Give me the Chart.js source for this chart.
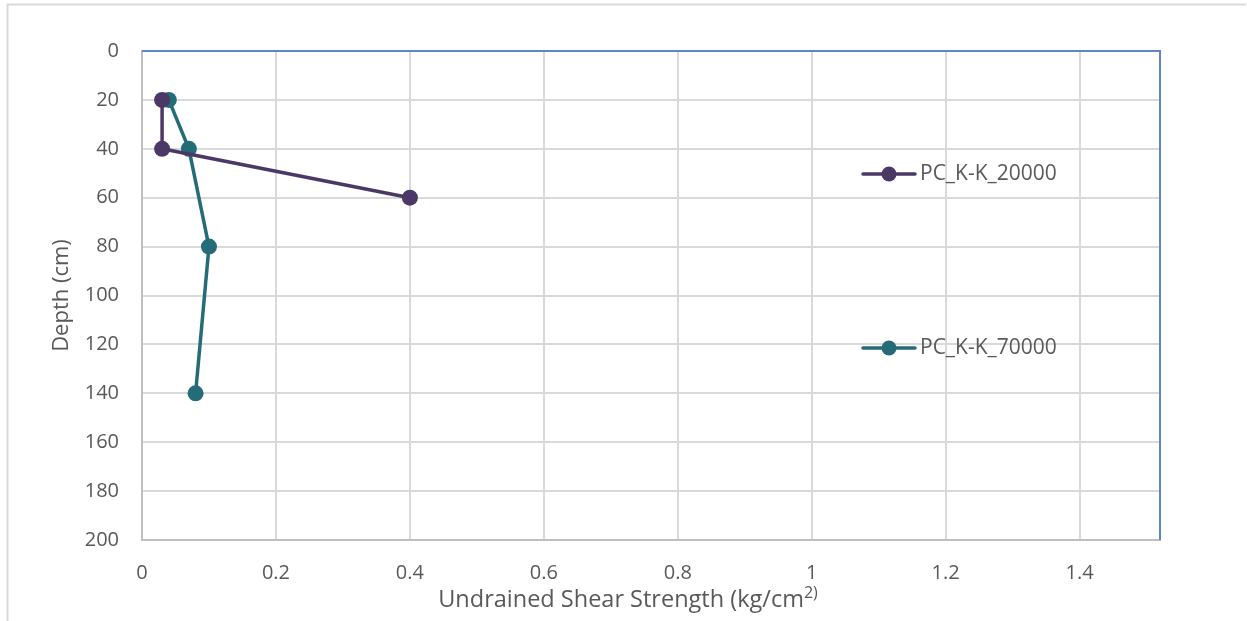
<!DOCTYPE html>
<html>
<head>
<meta charset="utf-8">
<script src="https://cdn.jsdelivr.net/npm/chart.js@4/dist/chart.umd.min.js"></script>
<style>
  html, body { margin: 0; padding: 0; background: #fff; }
  #wrap { position: relative; width: 1247px; height: 621px; }
</style>
</head>
<body>
<div id="wrap"><canvas id="shear"></canvas></div>
<script>
// series: depth (cm) against undrained shear strength (kg/cm2)
const seriesNames = ['PC_K-K_20000', 'PC_K-K_70000'];
const seriesColors = ['#4b3866', '#236c78'];

const depth20000 = [20, 40, 60];
const strength20000 = [0.03, 0.03, 0.40];

const depth70000 = [20, 40, 80, 140];
const strength70000 = [0.04, 0.07, 0.10, 0.08];

const xTicks = [0, 0.2, 0.4, 0.6, 0.8, 1, 1.2, 1.4];
const yTicks = [0, 20, 40, 60, 80, 100, 120, 140, 160, 180, 200];

const FONT = '"Open Sans", sans-serif';
const TEXT = '#595959';

function toPoints(xs, ys) {
  return xs.map((x, i) => ({ x: x, y: ys[i] }));
}

// frame, blue top/right edges, axis titles and the legend
const decorations = {
  id: 'decorations',
  beforeDraw(chart) {
    const ctx = chart.ctx;
    ctx.save();
    ctx.strokeStyle = '#d9d9d9';
    ctx.lineWidth = 2;
    ctx.beginPath();
    ctx.moveTo(7.5, 640);
    ctx.lineTo(7.5, 4.5);
    ctx.lineTo(1246, 4.5);
    ctx.stroke();
    ctx.restore();
  },
  afterDatasetsDraw(chart) {
    const ctx = chart.ctx;
    const a = chart.chartArea;
    ctx.save();

    ctx.strokeStyle = '#5b87c8';
    ctx.lineWidth = 2;
    ctx.beginPath();
    ctx.moveTo(a.left, a.top);
    ctx.lineTo(a.right, a.top);
    ctx.lineTo(a.right, a.bottom);
    ctx.stroke();

    ctx.fillStyle = TEXT;
    ctx.textBaseline = 'middle';

    // y title
    ctx.save();
    ctx.translate(62, (a.top + a.bottom) / 2);
    ctx.rotate(-Math.PI / 2);
    ctx.textAlign = 'center';
    ctx.font = '22px ' + FONT;
    ctx.fillText('Depth (cm)', 0, 0);
    ctx.restore();

    // x title with superscript
    const main = 'Undrained Shear Strength (kg/cm';
    const sup = '2)';
    ctx.font = '23.5px ' + FONT;
    const w1 = ctx.measureText(main).width;
    ctx.font = '16px ' + FONT;
    const w2 = ctx.measureText(sup).width;
    const x0 = 628 - (w1 + w2) / 2;
    ctx.textAlign = 'left';
    ctx.font = '23.5px ' + FONT;
    ctx.fillText(main, x0, 600);
    ctx.font = '16px ' + FONT;
    ctx.fillText(sup, x0 + w1, 593);

    // legend entries
    const legendY = [174, 348];
    seriesNames.forEach((name, i) => {
      const y = legendY[i];
      ctx.strokeStyle = seriesColors[i];
      ctx.lineWidth = 3.5;
      ctx.lineCap = 'round';
      ctx.beginPath();
      ctx.moveTo(863, y);
      ctx.lineTo(915, y);
      ctx.stroke();
      ctx.fillStyle = seriesColors[i];
      ctx.beginPath();
      ctx.arc(889, y, 7.5, 0, Math.PI * 2);
      ctx.fill();
      ctx.fillStyle = TEXT;
      ctx.font = '21px ' + FONT;
      ctx.textAlign = 'left';
      ctx.fillText(name, 920, y);
    });

    ctx.restore();
  }
};

new Chart(document.getElementById('shear'), {
  type: 'line',
  data: {
    datasets: [
      {
        label: seriesNames[0],
        data: toPoints(strength20000, depth20000),
        borderColor: seriesColors[0],
        backgroundColor: seriesColors[0],
        borderWidth: 3.5,
        pointRadius: 8,
        pointHoverRadius: 8,
        pointBorderWidth: 0,
        tension: 0
      },
      {
        label: seriesNames[1],
        data: toPoints(strength70000, depth70000),
        borderColor: seriesColors[1],
        backgroundColor: seriesColors[1],
        borderWidth: 3.5,
        pointRadius: 8,
        pointHoverRadius: 8,
        pointBorderWidth: 0,
        tension: 0
      }
    ]
  },
  options: {
    responsive: true,
    maintainAspectRatio: false,
    animation: false,
    layout: { padding: { left: 0, top: 51, right: 87, bottom: 0 } },
    scales: {
      x: {
        type: 'linear',
        min: 0,
        max: 1.52,
        afterBuildTicks: scale => { scale.ticks = xTicks.map(v => ({ value: v })); },
        afterFit: scale => { scale.height = 81; },
        ticks: {
          color: TEXT,
          font: { family: FONT, size: 20 },
          padding: 21,
          maxRotation: 0,
          callback: v => String(v)
        },
        grid: { color: '#d9d9d9', lineWidth: 2, drawTicks: false },
        border: { color: '#bfbfbf', width: 2 }
      },
      y: {
        type: 'linear',
        reverse: true,
        min: 0,
        max: 200,
        afterBuildTicks: scale => { scale.ticks = yTicks.map(v => ({ value: v })); },
        afterFit: scale => { scale.width = 142; },
        ticks: {
          color: TEXT,
          font: { family: FONT, size: 20 },
          padding: 23
        },
        grid: { color: '#d9d9d9', lineWidth: 2, drawTicks: false },
        border: { color: '#bfbfbf', width: 2 }
      }
    },
    plugins: {
      legend: { display: false },
      tooltip: { enabled: false }
    }
  },
  plugins: [decorations]
});
</script>
</body>
</html>
